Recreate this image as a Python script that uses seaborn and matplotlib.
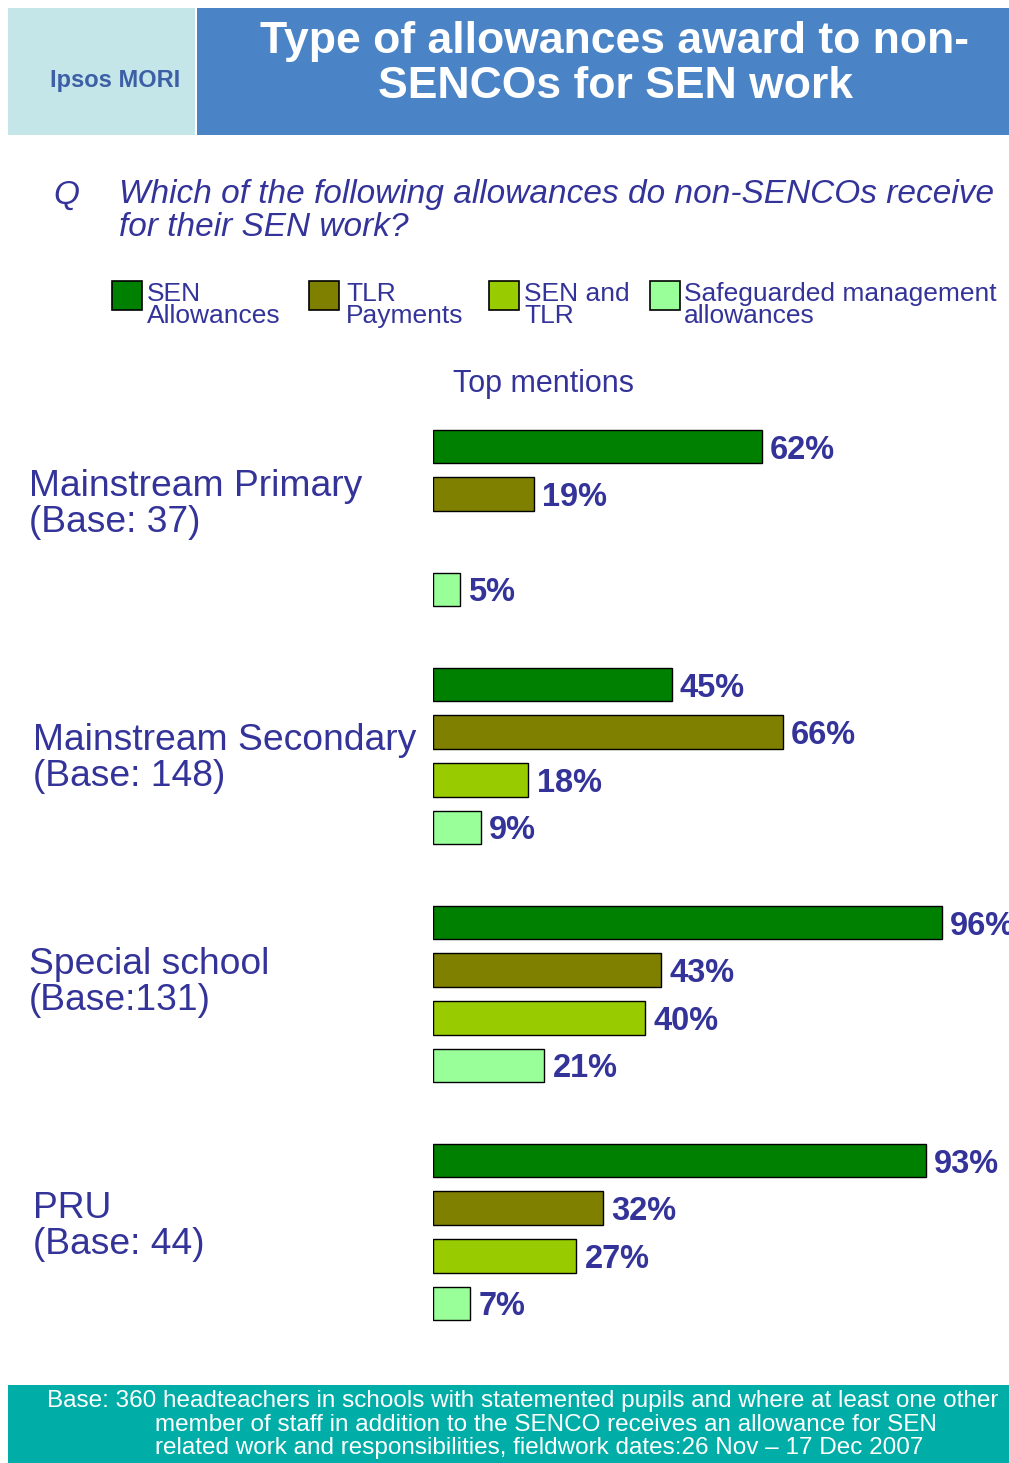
import numpy as np
import pandas as pd
import matplotlib
matplotlib.use("Agg")
import matplotlib.pyplot as plt
from matplotlib.patches import Rectangle
import seaborn as sns

# ---------------- data ----------------
groups = ["Mainstream Primary", "Mainstream Secondary", "Special school", "PRU"]
group_labels = ["Mainstream Primary\n(Base: 37)", "Mainstream Secondary\n(Base: 148)",
                "Special school\n(Base:131)", "PRU\n(Base: 44)"]
series = ["SEN Allowances", "TLR Payments", "SEN and TLR", "Safeguarded management allowances"]
legend_labels = ["SEN\nAllowances", "TLR\nPayments", "SEN and\nTLR", "Safeguarded management\nallowances"]
sen_allowances = [62, 45, 96, 93]
tlr_payments = [19, 66, 43, 32]
sen_and_tlr = [np.nan, 18, 40, 27]
safeguarded = [5, 9, 21, 7]
colors = ["#008000", "#808000", "#99CC00", "#99FF99"]

rows = []
for s, vals in zip(series, [sen_allowances, tlr_payments, sen_and_tlr, safeguarded]):
    for g, v in zip(groups, vals):
        rows.append({"group": g, "series": s, "value": v})
df = pd.DataFrame(rows)

# ---------------- figure ----------------
sns.set_theme(style="white")
plt.rcParams["font.family"] = ["Liberation Sans", "DejaVu Sans"]
W, H = 1009, 1463
fig = plt.figure(figsize=(W / 100, H / 100), dpi=100)
TXT = "#333399"

def fx(x):
    return x / W

def fy(y):
    return 1 - y / H

# header
fig.patches.append(Rectangle((fx(8), fy(135)), fx(187), 127 / H, transform=fig.transFigure,
                             facecolor="#C4E6E8", edgecolor="none", zorder=0))
fig.patches.append(Rectangle((fx(197), fy(135)), fx(812), 127 / H, transform=fig.transFigure,
                             facecolor="#4A84C6", edgecolor="none", zorder=0))
fig.text(fx(115), fy(80), "Ipsos MORI", color="#3D5FA6", fontsize=17, fontweight="bold",
         ha="center", va="center")
fig.text(fx(615), fy(42), "Type of allowances award to non-", color="white", fontsize=32,
         fontweight="bold", ha="center", va="center")
fig.text(fx(615), fy(87), "SENCOs for SEN work", color="white", fontsize=32,
         fontweight="bold", ha="center", va="center")

# question
fig.text(fx(53), fy(195), "Q", color=TXT, fontsize=24, style="italic", ha="left", va="center")
fig.text(fx(119), fy(195), "Which of the following allowances do non-SENCOs receive",
         color=TXT, fontsize=24, style="italic", ha="left", va="center")
fig.text(fx(119), fy(227), "for their SEN work?",
         color=TXT, fontsize=24, style="italic", ha="left", va="center")

# legend
leg_box_x = [112, 309, 489, 650]
leg_txt_x = [147, 346, 524, 684]
for bx, tx, lab, c in zip(leg_box_x, leg_txt_x, legend_labels, colors):
    fig.patches.append(Rectangle((fx(bx), fy(310)), fx(30), 29 / H, transform=fig.transFigure,
                                 facecolor=c, edgecolor="black", linewidth=1.2))
    l1, l2 = lab.split("\n")
    fig.text(fx(tx), fy(294), l1, color=TXT, fontsize=19, ha="left", va="center")
    fig.text(fx(tx), fy(316), l2, color=TXT, fontsize=19, ha="left", va="center")

fig.text(fx(453), fy(384), "Top mentions", color=TXT, fontsize=22, ha="left", va="center")

# bars
ax = fig.add_axes([fx(433), fy(1351), fx(530), 952 / H])
sns.barplot(data=df, y="group", x="value", hue="series", order=groups, hue_order=series,
            palette=colors, orient="h", width=0.8, gap=0.29, edgecolor="black", linewidth=1,
            saturation=1, legend=False, ax=ax)
for cont in ax.containers:
    vals = [b.get_width() for b in cont]
    texts = ax.bar_label(cont, labels=[f"{v:.0f}%" if np.isfinite(v) else "" for v in vals],
                         padding=6, color=TXT, fontsize=23.5, fontweight="bold", clip_on=False)
    for t in texts:
        t.set_va("center_baseline")
ax.set_xlim(0, 100)
ax.set_ylim(3.5, -0.5)
ax.set_xlabel("")
ax.set_ylabel("")
ax.set_xticks([])
ax.set_yticks([])
for sp in ax.spines.values():
    sp.set_visible(False)
ax.patch.set_alpha(0)

# group labels
lab_x = [29, 33, 29, 33]
lab_y = [487, 741, 964, 1208]
for lx, ly, lab in zip(lab_x, lab_y, group_labels):
    l1, l2 = lab.split("\n")
    fig.text(fx(lx), fy(ly), l1, color=TXT, fontsize=26.8, ha="left", va="center")
    fig.text(fx(lx), fy(ly + 36), l2, color=TXT, fontsize=26.8, ha="left", va="center")

# footer
fig.patches.append(Rectangle((fx(8), 0), fx(1001), 78 / H, transform=fig.transFigure,
                             facecolor="#00ADA7", edgecolor="none"))
fig.text(fx(47), fy(1401), "Base: 360 headteachers in schools with statemented pupils and where at least one other",
         color="white", fontsize=17.5, ha="left", va="center")
fig.text(fx(155), fy(1425), "member of staff in addition to the SENCO receives an allowance for SEN",
         color="white", fontsize=17.5, ha="left", va="center")
fig.text(fx(155), fy(1448), "related work and responsibilities, fieldwork dates:26 Nov \u2013 17 Dec 2007",
         color="white", fontsize=17.5, ha="left", va="center")

fig.savefig("out.png", dpi=100)
